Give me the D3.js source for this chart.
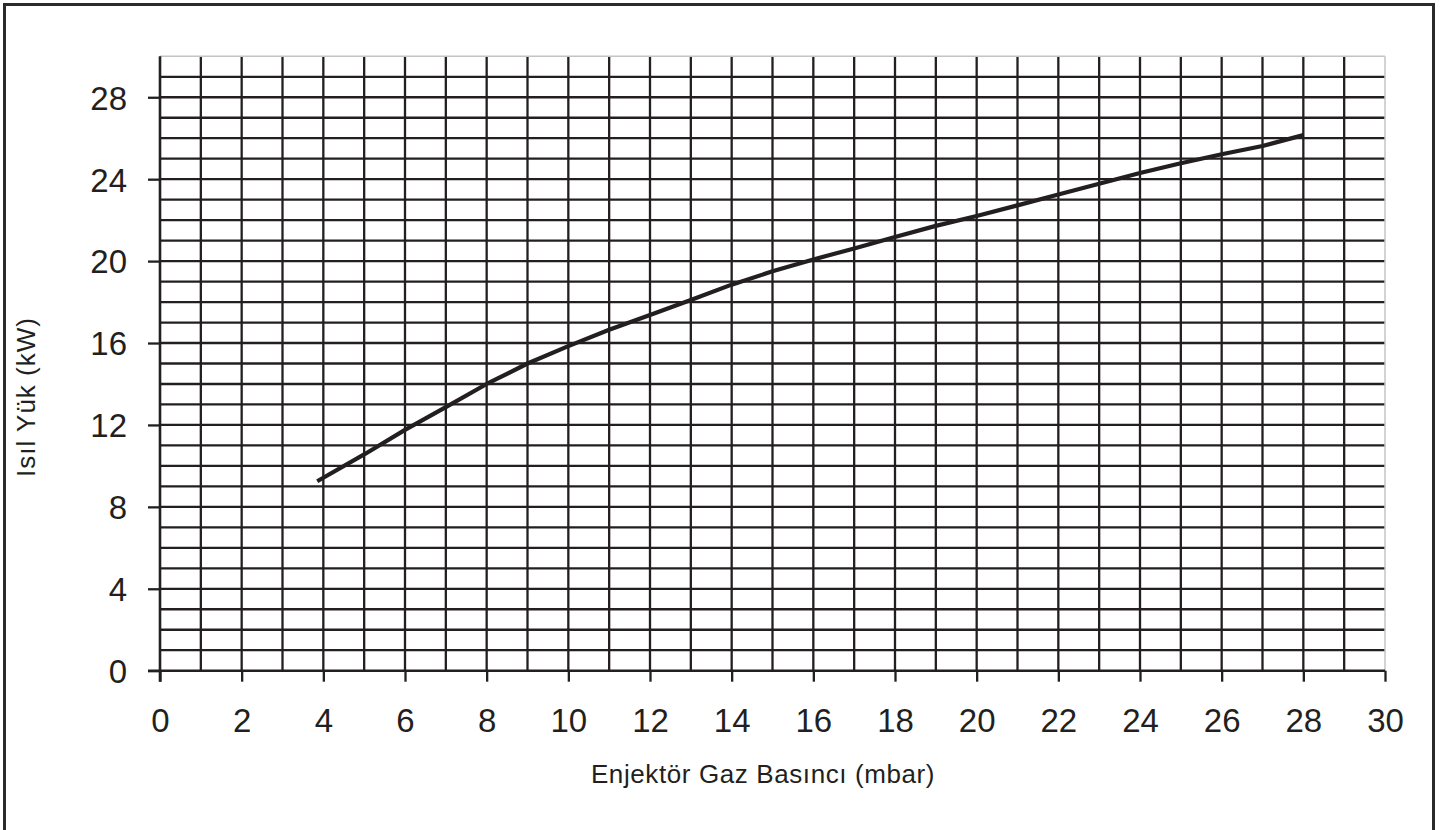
<!DOCTYPE html>
<html>
<head>
<meta charset="utf-8">
<script src="https://cdn.jsdelivr.net/npm/d3@7"></script>
<style>
  html, body { margin: 0; padding: 0; background: #fff; }
  svg { display: block; }
</style>
</head>
<body>
<svg id="chart" width="1453" height="830"></svg>
<script>
// ---- data ----
const pressure = [3.85, 5, 6, 7, 8, 9, 10, 11, 12, 13, 14, 15, 16, 17, 18, 19, 20, 21, 22, 23, 24, 25, 26, 27, 28];
const load     = [9.25, 10.56, 11.76, 12.87, 14.0, 15.0, 15.85, 16.65, 17.37, 18.1, 18.85, 19.5, 20.08, 20.62, 21.18, 21.72, 22.2, 22.72, 23.25, 23.78, 24.3, 24.78, 25.22, 25.62, 26.15];
const xTickValues = [0, 2, 4, 6, 8, 10, 12, 14, 16, 18, 20, 22, 24, 26, 28, 30];
const yTickValues = [0, 4, 8, 12, 16, 20, 24, 28];
const xTitle = "Enjektör Gaz Basıncı (mbar)";
const yTitle = "Isıl Yük (kW)";

(function () {
// ---- layout ----
const svg = d3.select("#chart");
const pLeft = 160, pRight = 1385, pTop = 56.3, pBottom = 670.7;
const x = d3.scaleLinear().domain([0, 30]).range([pLeft, pRight]);
const y = d3.scaleLinear().domain([0, 30]).range([pBottom, pTop]);
const dark = "#231f20";
const font = "'Liberation Sans', Arial, sans-serif";

// outer frame
svg.append("rect")
  .attr("x", 4.5).attr("y", 4.5)
  .attr("width", 1429).attr("height", 840)
  .attr("fill", "none").attr("stroke", "#2b2b2b").attr("stroke-width", 3);

// grid
const gridVals = d3.range(1, 30);
const grid = svg.append("g");
grid.selectAll("line.v").data(gridVals).join("line").attr("class", "v")
  .attr("x1", d => x(d)).attr("x2", d => x(d))
  .attr("y1", y(30)).attr("y2", y(0))
  .attr("stroke", dark).attr("stroke-width", 2.3);
grid.selectAll("line.h").data(gridVals).join("line").attr("class", "h")
  .attr("x1", x(0)).attr("x2", x(30))
  .attr("y1", d => y(d)).attr("y2", d => y(d))
  .attr("stroke", dark).attr("stroke-width", 2.3);
// light top/right borders
svg.append("line").attr("x1", x(0)).attr("x2", x(30)).attr("y1", y(30)).attr("y2", y(30))
  .attr("stroke", "#c4c4c4").attr("stroke-width", 1.5);
svg.append("line").attr("x1", x(30)).attr("x2", x(30)).attr("y1", y(30)).attr("y2", y(0))
  .attr("stroke", "#c4c4c4").attr("stroke-width", 1.5);

// axes
const yAxis = d3.axisLeft(y).tickValues(yTickValues).tickSize(12).tickPadding(21).tickFormat(d3.format("d"));
const xAxis = d3.axisBottom(x).tickValues(xTickValues).tickSize(11).tickPadding(27).tickFormat(d3.format("d"));

const gy = svg.append("g").attr("transform", `translate(${pLeft},0)`).call(yAxis);
gy.select(".domain").remove();
gy.selectAll(".tick line").attr("stroke", dark).attr("stroke-width", 2.3);
gy.selectAll(".tick text").attr("fill", dark).style("font-family", font).style("font-size", "33px")
  .attr("dy", "0.36em");

const gx = svg.append("g").attr("transform", `translate(0,${pBottom})`).call(xAxis);
gx.select(".domain").remove();
gx.selectAll(".tick line").attr("stroke", dark).attr("stroke-width", 2.3);
gx.selectAll(".tick text").attr("fill", dark).style("font-family", font).style("font-size", "33px");

// axis lines
svg.append("line").attr("x1", x(0)).attr("x2", x(0)).attr("y1", y(30)).attr("y2", y(0) + 11)
  .attr("stroke", dark).attr("stroke-width", 2.6);
svg.append("line").attr("x1", x(0) - 12).attr("x2", x(30)).attr("y1", y(0)).attr("y2", y(0))
  .attr("stroke", dark).attr("stroke-width", 2.6);

// curve
const pts = pressure.map((p, i) => [p, load[i]]);
svg.append("path")
  .datum(pts)
  .attr("d", d3.line().x(d => x(d[0])).y(d => y(d[1])))
  .attr("fill", "none").attr("stroke", dark).attr("stroke-width", 4.2)
  .attr("stroke-linejoin", "round");

// titles
svg.append("text")
  .attr("x", 763).attr("y", 783)
  .attr("text-anchor", "middle")
  .attr("fill", dark)
  .style("font-family", font).style("font-size", "26px").style("letter-spacing", "0.6px")
  .text(xTitle);

svg.append("text")
  .attr("transform", "translate(35,397) rotate(-90)")
  .attr("text-anchor", "middle")
  .attr("fill", dark)
  .style("font-family", font).style("font-size", "26px").style("letter-spacing", "1px")
  .text(yTitle);
})();
</script>
</body>
</html>
